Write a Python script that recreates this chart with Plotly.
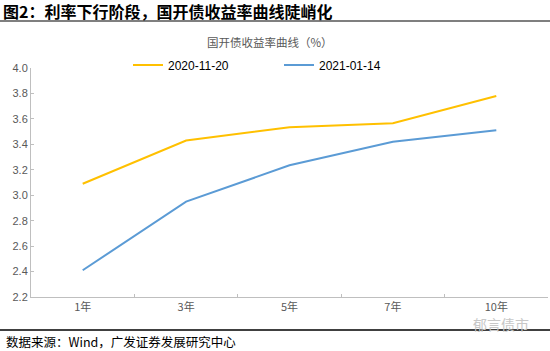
import plotly.graph_objects as go

categories = ["1年", "3年", "5年", "7年", "10年"]
series_names = ["2020-11-20", "2021-01-14"]
yield_2020_11_20 = [3.09, 3.43, 3.535, 3.565, 3.78]
yield_2021_01_14 = [2.41, 2.95, 3.235, 3.42, 3.51]
y_ticks = [2.2, 2.4, 2.6, 2.8, 3.0, 3.2, 3.4, 3.6, 3.8, 4.0]
colors = ["#FFC000", "#5B9BD5"]

font_cjk = "Noto Sans CJK SC"
PW, PH, L, T = 517, 229, 31, 68

def px(x):
    return (x - L) / PW

def py(y):
    return 1 - (y - T) / PH

fig = go.Figure()
for name, vals, c in zip(series_names, [yield_2020_11_20, yield_2021_01_14], colors):
    fig.add_trace(go.Scatter(x=categories, y=vals, mode="lines", name=name,
                             line=dict(color=c, width=2)))

fig.update_layout(
    width=550, height=351,
    margin=dict(l=31, r=2, t=68, b=54),
    paper_bgcolor="white", plot_bgcolor="white",
    showlegend=True,
    legend=dict(orientation="h", x=px(128), xanchor="left", y=py(65), yanchor="middle",
                font=dict(family="Arial, Liberation Sans", size=12, color="#000000"),
                itemwidth=30, tracegroupgap=0, entrywidth=106, bgcolor="rgba(0,0,0,0)"),
    xaxis=dict(type="category", range=[-0.5, 4.5], showline=True, linecolor="#BFBFBF",
               linewidth=1, ticks="inside", tickson="boundaries", ticklen=3,
               tickcolor="#BFBFBF", showgrid=False,
               tickfont=dict(family=font_cjk + ", Arial", size=11, color="#595959")),
    yaxis=dict(range=[2.2, 4.0], tickvals=y_ticks, tickformat=".1f", showline=True,
               linecolor="#BFBFBF", linewidth=1, ticks="inside", ticklen=3,
               tickcolor="#BFBFBF", showgrid=False, zeroline=False,
               tickfont=dict(family="Arial, Liberation Sans", size=11, color="#595959")),
)

fig.add_annotation(text="<b>图2：利率下行阶段，国开债收益率曲线陡峭化</b>", xref="paper", yref="paper",
                   x=px(1), y=py(11), xanchor="left", yanchor="middle",
                   showarrow=False, font=dict(family=font_cjk, size=16, color="#000000"))
fig.add_shape(type="line", xref="paper", yref="paper", x0=px(0), x1=px(550),
              y0=py(21), y1=py(21), line=dict(color="#7F7F7F", width=2))
fig.add_annotation(text="国开债收益率曲线（%）", xref="paper", yref="paper",
                   x=px(270), y=py(42), xanchor="center", yanchor="middle",
                   showarrow=False, font=dict(family=font_cjk, size=11.5, color="#595959"))
fig.add_shape(type="line", xref="paper", yref="paper", x0=px(0), x1=px(550),
              y0=py(330), y1=py(330), line=dict(color="#000000", width=1.5))
fig.add_annotation(text="数据来源：Wind，广发证券发展研究中心", xref="paper", yref="paper",
                   x=px(4), y=py(341), xanchor="left", yanchor="middle",
                   showarrow=False, font=dict(family=font_cjk, size=12.5, color="#000000"))
fig.add_annotation(text="郁言债市", xref="paper", yref="paper",
                   x=px(531), y=py(324), xanchor="right", yanchor="middle",
                   showarrow=False, font=dict(family=font_cjk, size=14, color="#C8C8C8"))

fig.write_html("out.html")
